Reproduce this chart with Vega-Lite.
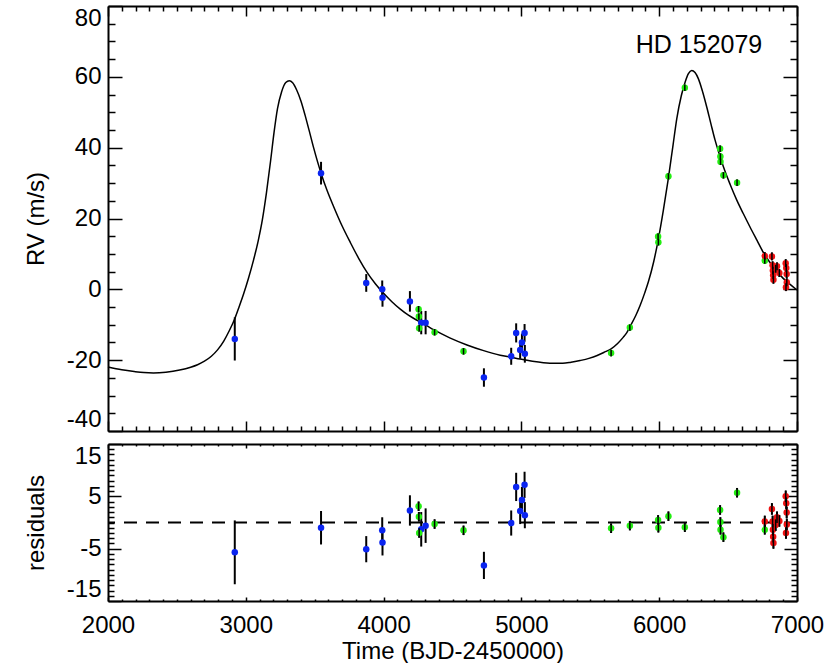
{
  "$schema": "https://vega.github.io/schema/vega-lite/v6.json",
  "background": "white",
  "padding": {"left": 24, "top": 5, "right": 5, "bottom": 0},
  "config": {
    "view": {"stroke": null},
    "axis": {"domainColor": "black", "domainWidth": 2, "tickColor": "black", "tickWidth": 1.5, "labelFont": "Liberation Sans", "labelFontSize": 24, "labelColor": "black", "titleFont": "Liberation Sans", "titleFontSize": 24, "titleFontWeight": "normal", "titleColor": "black", "grid": false, "labelOverlap": false}
  },
  "datasets": {
    "obs": [
      {"t": 2920, "rv": -14.0, "err": 6.1, "res": -5.7, "inst": "A"},
      {"t": 3546, "rv": 32.8, "err": 3.2, "res": -1.0, "inst": "A"},
      {"t": 3874, "rv": 1.8, "err": 2.5, "res": -5.1, "inst": "A"},
      {"t": 3990, "rv": 0.0, "err": 2.5, "res": -1.5, "inst": "A"},
      {"t": 3992, "rv": -2.4, "err": 2.5, "res": -3.8, "inst": "A"},
      {"t": 4191, "rv": -3.4, "err": 2.9, "res": 2.3, "inst": "A"},
      {"t": 4273, "rv": -9.4, "err": 3.3, "res": -1.3, "inst": "A"},
      {"t": 4305, "rv": -9.4, "err": 3.3, "res": -0.6, "inst": "A"},
      {"t": 4728, "rv": -24.9, "err": 2.6, "res": -8.2, "inst": "A"},
      {"t": 4926, "rv": -18.9, "err": 2.4, "res": -0.1, "inst": "A"},
      {"t": 4962, "rv": -12.3, "err": 2.7, "res": 6.8, "inst": "A"},
      {"t": 4991, "rv": -17.1, "err": 2.5, "res": 2.2, "inst": "A"},
      {"t": 5004, "rv": -15.0, "err": 2.5, "res": 4.3, "inst": "A"},
      {"t": 5023, "rv": -12.3, "err": 2.5, "res": 7.2, "inst": "A"},
      {"t": 5025, "rv": -18.2, "err": 2.5, "res": 1.4, "inst": "A"},
      {"t": 4254, "rv": -5.6, "err": 0.9, "res": 3.1, "inst": "B"},
      {"t": 4256, "rv": -7.7, "err": 0.9, "res": 1.1, "inst": "B"},
      {"t": 4258, "rv": -11.0, "err": 0.9, "res": -2.0, "inst": "B"},
      {"t": 4370, "rv": -12.1, "err": 0.9, "res": -0.3, "inst": "B"},
      {"t": 4580, "rv": -17.5, "err": 0.9, "res": -1.5, "inst": "B"},
      {"t": 5651, "rv": -18.0, "err": 0.9, "res": -1.1, "inst": "B"},
      {"t": 5787, "rv": -10.8, "err": 0.9, "res": -0.6, "inst": "B"},
      {"t": 5992, "rv": 14.9, "err": 0.9, "res": 0.5, "inst": "B"},
      {"t": 5994, "rv": 13.3, "err": 0.9, "res": -1.0, "inst": "B"},
      {"t": 6067, "rv": 31.9, "err": 0.9, "res": 1.2, "inst": "B"},
      {"t": 6186, "rv": 56.9, "err": 0.9, "res": -0.9, "inst": "B"},
      {"t": 6442, "rv": 39.7, "err": 0.9, "res": 2.4, "inst": "B"},
      {"t": 6444, "rv": 37.5, "err": 0.9, "res": 0.1, "inst": "B"},
      {"t": 6445, "rv": 36.0, "err": 0.9, "res": -1.4, "inst": "B"},
      {"t": 6466, "rv": 32.2, "err": 0.9, "res": -2.8, "inst": "B"},
      {"t": 6565, "rv": 30.1, "err": 0.9, "res": 5.7, "inst": "B"},
      {"t": 6766, "rv": 8.1, "err": 0.9, "res": -1.4, "inst": "B"},
      {"t": 6766, "rv": 9.4, "err": 1.1, "res": 0.2, "inst": "C"},
      {"t": 6818, "rv": 9.3, "err": 1.1, "res": 2.6, "inst": "C"},
      {"t": 6823, "rv": 6.8, "err": 1.1, "res": 0.2, "inst": "C"},
      {"t": 6825, "rv": 5.3, "err": 1.1, "res": -1.4, "inst": "C"},
      {"t": 6827, "rv": 4.0, "err": 1.1, "res": -2.7, "inst": "C"},
      {"t": 6829, "rv": 2.7, "err": 1.1, "res": -3.9, "inst": "C"},
      {"t": 6845, "rv": 5.8, "err": 1.1, "res": -0.5, "inst": "C"},
      {"t": 6855, "rv": 6.5, "err": 1.1, "res": 1.0, "inst": "C"},
      {"t": 6872, "rv": 4.6, "err": 1.1, "res": 0.3, "inst": "C"},
      {"t": 6918, "rv": 7.4, "err": 1.1, "res": 5.0, "inst": "C"},
      {"t": 6922, "rv": 6.0, "err": 1.1, "res": 3.7, "inst": "C"},
      {"t": 6925, "rv": 4.3, "err": 1.1, "res": 1.9, "inst": "C"},
      {"t": 6926, "rv": 2.0, "err": 1.1, "res": -0.4, "inst": "C"},
      {"t": 6920, "rv": 0.6, "err": 1.1, "res": -2.0, "inst": "C"}
    ],
    "model": [
      {"t": 2000, "rv": -21.9}, {"t": 2100, "rv": -22.7}, {"t": 2190, "rv": -23.2}, {"t": 2260, "rv": -23.5},
      {"t": 2330, "rv": -23.6}, {"t": 2420, "rv": -23.4}, {"t": 2520, "rv": -22.8}, {"t": 2600, "rv": -22.0},
      {"t": 2650, "rv": -21.3}, {"t": 2700, "rv": -20.3}, {"t": 2750, "rv": -18.9}, {"t": 2795, "rv": -17.1},
      {"t": 2840, "rv": -14.6}, {"t": 2880, "rv": -11.7}, {"t": 2920, "rv": -8.3}, {"t": 2950, "rv": -5.1},
      {"t": 2985, "rv": -1.2}, {"t": 3020, "rv": 3.2}, {"t": 3057, "rv": 8.4}, {"t": 3090, "rv": 13.7},
      {"t": 3120, "rv": 19.6}, {"t": 3150, "rv": 27.3}, {"t": 3180, "rv": 36.3}, {"t": 3205, "rv": 44.3},
      {"t": 3230, "rv": 51.0}, {"t": 3260, "rv": 55.8}, {"t": 3290, "rv": 58.4}, {"t": 3316, "rv": 58.9},
      {"t": 3340, "rv": 58.3}, {"t": 3370, "rv": 56.2}, {"t": 3400, "rv": 53.2}, {"t": 3430, "rv": 49.2},
      {"t": 3460, "rv": 44.8}, {"t": 3492, "rv": 40.0}, {"t": 3546, "rv": 32.8}, {"t": 3590, "rv": 27.9},
      {"t": 3637, "rv": 23.4}, {"t": 3700, "rv": 17.8}, {"t": 3759, "rv": 13.2}, {"t": 3820, "rv": 8.7},
      {"t": 3880, "rv": 4.8}, {"t": 3940, "rv": 1.6}, {"t": 4000, "rv": -1.1}, {"t": 4060, "rv": -3.5},
      {"t": 4121, "rv": -5.6}, {"t": 4180, "rv": -7.3}, {"t": 4250, "rv": -8.9}, {"t": 4310, "rv": -10.2},
      {"t": 4363, "rv": -11.4}, {"t": 4480, "rv": -13.7}, {"t": 4605, "rv": -15.7}, {"t": 4726, "rv": -17.3},
      {"t": 4846, "rv": -18.6}, {"t": 4926, "rv": -19.2}, {"t": 4991, "rv": -19.7}, {"t": 5080, "rv": -20.3},
      {"t": 5160, "rv": -20.7}, {"t": 5240, "rv": -20.9}, {"t": 5300, "rv": -20.9}, {"t": 5360, "rv": -20.6},
      {"t": 5426, "rv": -20.1}, {"t": 5490, "rv": -19.5}, {"t": 5550, "rv": -18.7}, {"t": 5610, "rv": -17.6},
      {"t": 5651, "rv": -16.8}, {"t": 5700, "rv": -15.2}, {"t": 5740, "rv": -13.5}, {"t": 5765, "rv": -12.2},
      {"t": 5790, "rv": -10.4}, {"t": 5830, "rv": -7.4}, {"t": 5862, "rv": -4.5}, {"t": 5895, "rv": -1.0},
      {"t": 5922, "rv": 2.2}, {"t": 5960, "rv": 7.8}, {"t": 5994, "rv": 14.2}, {"t": 6030, "rv": 22.3},
      {"t": 6067, "rv": 31.5}, {"t": 6100, "rv": 40.6}, {"t": 6128, "rv": 48.3}, {"t": 6160, "rv": 54.6},
      {"t": 6188, "rv": 58.5}, {"t": 6212, "rv": 60.9}, {"t": 6236, "rv": 61.8}, {"t": 6260, "rv": 61.2},
      {"t": 6284, "rv": 59.5}, {"t": 6315, "rv": 55.8}, {"t": 6345, "rv": 51.5}, {"t": 6375, "rv": 46.8},
      {"t": 6405, "rv": 42.2}, {"t": 6436, "rv": 38.2}, {"t": 6466, "rv": 34.6}, {"t": 6515, "rv": 29.6},
      {"t": 6563, "rv": 25.2}, {"t": 6610, "rv": 21.4}, {"t": 6659, "rv": 17.6}, {"t": 6710, "rv": 13.8},
      {"t": 6756, "rv": 10.4}, {"t": 6800, "rv": 7.8}, {"t": 6853, "rv": 5.1}, {"t": 6900, "rv": 3.1},
      {"t": 6950, "rv": 1.4}, {"t": 7000, "rv": -0.2}
    ]
  },
  "bounds": "flush",
  "spacing": 13,
  "vconcat": [
    {
      "width": 689,
      "height": 425,
      "resolve": {"axis": {"x": "independent", "y": "independent"}},
      "layer": [
        {
          "data": {"name": "model"},
          "mark": {"type": "line", "color": "black", "strokeWidth": 1.5, "interpolate": "monotone"},
          "encoding": {
            "x": {"field": "t", "type": "quantitative", "scale": {"domain": [2000, 7000], "nice": false, "zero": false},
              "axis": {"orient": "top", "values": [2000,2100,2200,2300,2400,2500,2600,2700,2800,2900,3000,3100,3200,3300,3400,3500,3600,3700,3800,3900,4000,4100,4200,4300,4400,4500,4600,4700,4800,4900,5000,5100,5200,5300,5400,5500,5600,5700,5800,5900,6000,6100,6200,6300,6400,6500,6600,6700,6800,6900,7000], "labels": false, "title": null,
                "tickSize": {"condition": {"test": "datum.value % 1000 === 0", "value": -10}, "value": -5}}},
            "y": {"field": "rv", "type": "quantitative", "scale": {"domain": [-40, 80], "nice": false, "zero": false},
              "axis": {"orient": "right", "values": [-40,-35,-30,-25,-20,-15,-10,-5,0,5,10,15,20,25,30,35,40,45,50,55,60,65,70,75,80], "labels": false, "title": null,
                "tickSize": {"condition": {"test": "datum.value % 20 === 0", "value": -14}, "value": -7}}}
          }
        },
        {
          "data": {"name": "obs"},
          "mark": {"type": "errorbar", "color": "black", "thickness": 2},
          "encoding": {
            "x": {"field": "t", "type": "quantitative", "scale": {"domain": [2000, 7000], "nice": false, "zero": false},
              "axis": {"orient": "bottom", "values": [2000,2100,2200,2300,2400,2500,2600,2700,2800,2900,3000,3100,3200,3300,3400,3500,3600,3700,3800,3900,4000,4100,4200,4300,4400,4500,4600,4700,4800,4900,5000,5100,5200,5300,5400,5500,5600,5700,5800,5900,6000,6100,6200,6300,6400,6500,6600,6700,6800,6900,7000], "labels": false, "title": null,
                "tickSize": {"condition": {"test": "datum.value % 1000 === 0", "value": -10}, "value": -5}}},
            "y": {"field": "rv", "type": "quantitative", "scale": {"domain": [-40, 80], "nice": false, "zero": false},
              "axis": {"orient": "left", "values": [-40,-35,-30,-25,-20,-15,-10,-5,0,5,10,15,20,25,30,35,40,45,50,55,60,65,70,75,80],
                "labelExpr": "datum.value % 20 === 0 ? '' + datum.value : ''", "labelFlush": true, "labelPadding": 21,
                "tickSize": {"condition": {"test": "datum.value % 20 === 0", "value": -14}, "value": -7},
                "title": "RV (m/s)", "titleX": -72, "titleY": 212.5, "titleAngle": 270, "titleAlign": "center", "titleBaseline": "middle"}},
            "yError": {"field": "err"}
          }
        },
        {
          "data": {"name": "obs"},
          "mark": {"type": "circle", "size": 42, "opacity": 1},
          "encoding": {
            "x": {"field": "t", "type": "quantitative", "scale": {"domain": [2000, 7000], "nice": false, "zero": false}, "axis": null},
            "y": {"field": "rv", "type": "quantitative", "scale": {"domain": [-40, 80], "nice": false, "zero": false}, "axis": null},
            "color": {"field": "inst", "type": "nominal", "scale": {"domain": ["A", "B", "C"], "range": ["#0a24f0", "#22ee11", "#ee1111"]}, "legend": null}
          }
        },
        {
          "data": {"name": "obs"},
          "transform": [{"filter": "datum.inst !== 'A'"}],
          "mark": {"type": "errorbar", "color": "black", "thickness": 1.5},
          "encoding": {
            "x": {"field": "t", "type": "quantitative", "scale": {"domain": [2000, 7000], "nice": false, "zero": false}, "axis": null},
            "y": {"field": "rv", "type": "quantitative", "scale": {"domain": [-40, 80], "nice": false, "zero": false}, "axis": null},
            "yError": {"field": "err"}
          }
        },
        {
          "data": {"values": [{}]},
          "mark": {"type": "text", "font": "Liberation Sans", "fontSize": 25, "color": "black", "align": "center", "baseline": "alphabetic"},
          "encoding": {
            "x": {"datum": 6289, "type": "quantitative", "scale": {"domain": [2000, 7000], "nice": false, "zero": false}, "axis": null},
            "y": {"datum": 66.8, "type": "quantitative", "scale": {"domain": [-40, 80], "nice": false, "zero": false}, "axis": null},
            "text": {"value": "HD 152079"}
          }
        }
      ]
    },
    {
      "width": 689,
      "height": 157,
      "resolve": {"axis": {"x": "independent", "y": "independent"}},
      "layer": [
        {
          "data": {"values": [{}]},
          "mark": {"type": "rule", "color": "black", "strokeWidth": 2, "strokeDash": [13, 9]},
          "encoding": {
            "y": {"datum": 0, "type": "quantitative", "scale": {"domain": [-15, 15], "nice": false, "zero": false}, "axis": null}
          }
        },
        {
          "data": {"name": "obs"},
          "mark": {"type": "errorbar", "color": "black", "thickness": 2},
          "encoding": {
            "x": {"field": "t", "type": "quantitative", "scale": {"domain": [2000, 7000], "nice": false, "zero": false},
              "axis": {"orient": "bottom", "values": [2000,2100,2200,2300,2400,2500,2600,2700,2800,2900,3000,3100,3200,3300,3400,3500,3600,3700,3800,3900,4000,4100,4200,4300,4400,4500,4600,4700,4800,4900,5000,5100,5200,5300,5400,5500,5600,5700,5800,5900,6000,6100,6200,6300,6400,6500,6600,6700,6800,6900,7000],
                "labelExpr": "datum.value % 1000 === 0 ? '' + datum.value : ''", "labelFlush": false, "labelPadding": 16,
                "tickSize": {"condition": {"test": "datum.value % 1000 === 0", "value": -4}, "value": -2},
                "title": "Time (BJD-2450000)", "titleX": 344.5, "titleY": 57, "titleAlign": "center", "titleBaseline": "alphabetic", "titleAngle": 0}},
            "y": {"field": "res", "type": "quantitative", "scale": {"domain": [-15, 15], "nice": false, "zero": false},
              "axis": {"orient": "left", "values": [-15,-14,-13,-12,-11,-10,-9,-8,-7,-6,-5,-4,-3,-2,-1,0,1,2,3,4,5,6,7,8,9,10,11,12,13,14,15],
                "labelExpr": "(datum.value + 15) % 10 === 0 ? '' + datum.value : ''", "labelFlush": true, "labelPadding": 20,
                "tickSize": {"condition": {"test": "(datum.value + 15) % 10 === 0", "value": -13}, "value": -6},
                "title": "residuals", "titleX": -72, "titleY": 78.5, "titleAngle": 270, "titleAlign": "center", "titleBaseline": "middle"}},
            "yError": {"field": "err"}
          }
        },
        {
          "data": {"name": "obs"},
          "mark": {"type": "circle", "size": 42, "opacity": 1},
          "encoding": {
            "x": {"field": "t", "type": "quantitative", "scale": {"domain": [2000, 7000], "nice": false, "zero": false},
              "axis": {"orient": "top", "values": [2000,2100,2200,2300,2400,2500,2600,2700,2800,2900,3000,3100,3200,3300,3400,3500,3600,3700,3800,3900,4000,4100,4200,4300,4400,4500,4600,4700,4800,4900,5000,5100,5200,5300,5400,5500,5600,5700,5800,5900,6000,6100,6200,6300,6400,6500,6600,6700,6800,6900,7000], "labels": false, "title": null,
                "tickSize": {"condition": {"test": "datum.value % 1000 === 0", "value": -4}, "value": -2}}},
            "y": {"field": "res", "type": "quantitative", "scale": {"domain": [-15, 15], "nice": false, "zero": false},
              "axis": {"orient": "right", "values": [-15,-14,-13,-12,-11,-10,-9,-8,-7,-6,-5,-4,-3,-2,-1,0,1,2,3,4,5,6,7,8,9,10,11,12,13,14,15], "labels": false, "title": null,
                "tickSize": {"condition": {"test": "(datum.value + 15) % 10 === 0", "value": -13}, "value": -6}}},
            "color": {"field": "inst", "type": "nominal", "scale": {"domain": ["A", "B", "C"], "range": ["#0a24f0", "#22ee11", "#ee1111"]}, "legend": null}
          }
        },
        {
          "data": {"name": "obs"},
          "transform": [{"filter": "datum.inst !== 'A'"}],
          "mark": {"type": "errorbar", "color": "black", "thickness": 1.5},
          "encoding": {
            "x": {"field": "t", "type": "quantitative", "scale": {"domain": [2000, 7000], "nice": false, "zero": false}, "axis": null},
            "y": {"field": "res", "type": "quantitative", "scale": {"domain": [-15, 15], "nice": false, "zero": false}, "axis": null},
            "yError": {"field": "err"}
          }
        }
      ]
    }
  ]
}
